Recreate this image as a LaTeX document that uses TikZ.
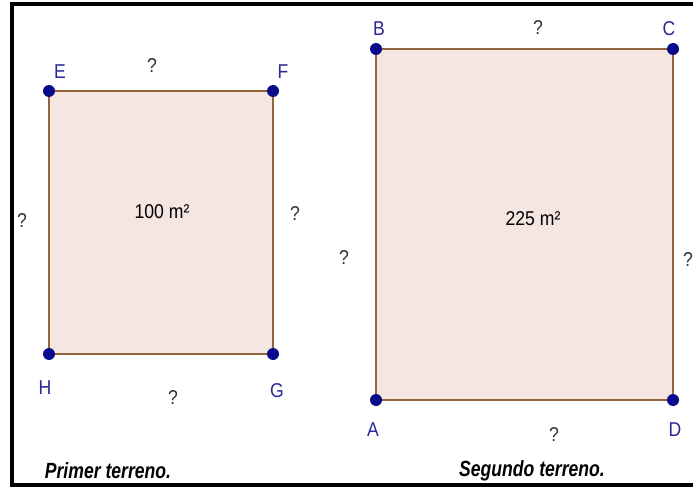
\documentclass[tikz,border=0pt]{standalone}
\usepackage{fontspec}
\setmainfont{Liberation Sans}[FakeStretch=0.88]
\usepackage{tikz}
\usetikzlibrary{positioning}
\usepackage{xcolor}
\definecolor{ptblue}{RGB}{10,10,140}
\definecolor{lblblue}{RGB}{40,40,150}
\definecolor{lotfill}{RGB}{245,230,226}
\definecolor{lotedge}{RGB}{150,100,60}

\begin{document}
\begin{tikzpicture}[
    x=1pt, y=-1pt,
    font=\fontsize{20}{22}\selectfont,
    lot/.style={draw=lotedge, fill=lotfill, line width=1.6pt},
    pt/.style={circle, fill=ptblue, inner sep=0pt, minimum size=12pt},
    vname/.style={text=lblblue, inner sep=1pt},
    qmark/.style={text=black!80, inner sep=1pt},
    caption/.style={font=\fontsize{22}{24}\selectfont\bfseries\itshape\addfontfeature{FakeStretch=0.8}, inner sep=1pt},
  ]
    \useasboundingbox (0,0) rectangle (693,489);
    \fill[white] (0,0) rectangle (693,489);
    \draw[line width=4pt] (693,4) -- (12,4) -- (12,485) -- (693,485);

    % first lot
    \coordinate (e) at (49,91);
    \coordinate (f) at (273,91);
    \coordinate (g) at (273,354);
    \coordinate (h) at (49,354);
    \draw[lot] (e) -- (f) -- (g) -- (h) -- cycle;
    \node[pt] (E) at (e) {};
    \node[pt] (F) at (f) {};
    \node[pt] (G) at (g) {};
    \node[pt] (H) at (h) {};

    \node[vname] (lE) at (60,72)  {E};
    \node[vname] (lF) at (283,72) {F};
    \node[vname] (lH) at (45,388) {H};
    \node[vname] (lG) at (277,391) {G};
    \node[qmark] (qEF) at (152,66)  {?};
    \node[qmark] (qHE) at (22,221)  {?};
    \node[qmark] (qFG) at (295,214) {?};
    \node[qmark] (qGH) at (173,398) {?};
    \node (area1) at (162,212) {100 m²};

    % second lot
    \coordinate (b) at (376,49);
    \coordinate (c) at (673,49);
    \coordinate (d) at (673,400);
    \coordinate (a) at (376,400);
    \draw[lot] (b) -- (c) -- (d) -- (a) -- cycle;
    \node[pt] (B) at (b) {};
    \node[pt] (C) at (c) {};
    \node[pt] (D) at (d) {};
    \node[pt] (A) at (a) {};

    \node[vname] (lB) at (379,29)  {B};
    \node[vname] (lC) at (669,29)  {C};
    \node[vname] (lA) at (373,430) {A};
    \node[vname] (lD) at (675,430) {D};
    \node[qmark] (qBC) at (538,28)  {?};
    \node[qmark] (qAB) at (344,258) {?};
    \node[qmark] (qCD) at (688,260) {?};
    \node[qmark] (qDA) at (554,435) {?};
    \node (area2) at (533,219) {225 m²};

    \node[caption] (cap1) at (108,471) {Primer terreno.};
    \node[caption] (cap2) at (532,471) {Segundo terreno.};
  \end{tikzpicture}
\end{document}
